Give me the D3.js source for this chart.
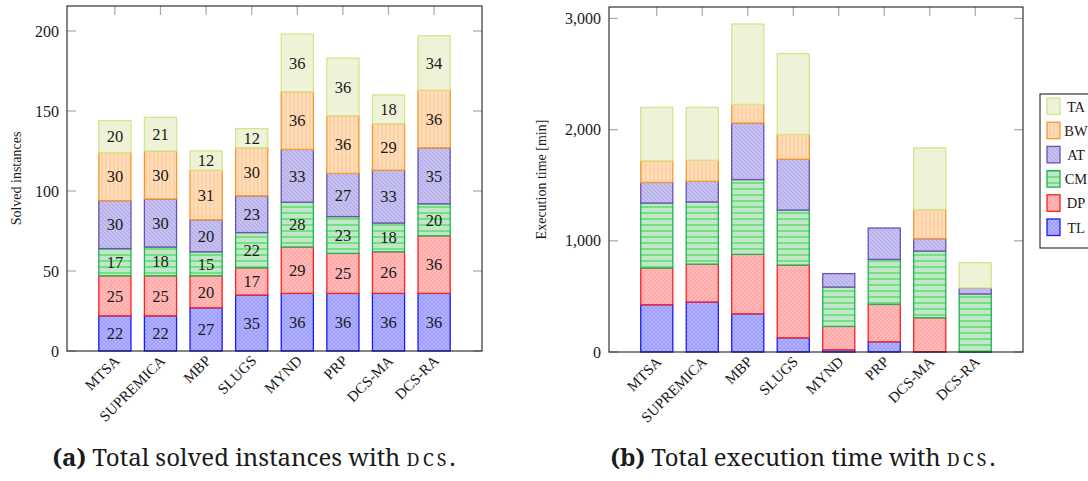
<!DOCTYPE html>
<html><head><meta charset="utf-8">
<script src="https://cdn.jsdelivr.net/npm/d3@7"></script>
<style>
body{margin:0;background:#fff;}
svg{display:block;}
</style></head>
<body>
<svg id="c" width="1088" height="481"></svg>
<script>
// ---------- data ----------
const categories = ["MTSA","SUPREMICA","MBP","SLUGS","MYND","PRP","DCS-MA","DCS-RA"];
const seriesNames = ["TL","DP","CM","AT","BW","TA"];
// (a) solved instances
const solvedTL = [22,22,27,35,36,36,36,36];
const solvedDP = [25,25,20,17,29,25,26,36];
const solvedCM = [17,18,15,22,28,23,18,20];
const solvedAT = [30,30,20,23,33,27,33,35];
const solvedBW = [30,30,31,30,36,36,29,36];
const solvedTA = [20,21,12,12,36,36,18,34];
// (b) execution time [min]
const timeTL = [425,450,344,128,20,92,3,2];
const timeDP = [330,340,534,654,210,336,305,0];
const timeCM = [585,560,673,495,354,405,600,520];
const timeAT = [185,185,508,457,121,282,112,54];
const timeBW = [195,190,168,223,0,0,261,0];
const timeTA = [480,475,723,726,0,0,555,228];
const solvedTicks = [0,50,100,150,200];
const timeTicks = [0,1000,2000,3000];

const FONT = "'Liberation Serif','Times New Roman',serif";
const styles = {
  TL:{stroke:"#1a1aff"}, DP:{stroke:"#ff2020"}, CM:{stroke:"#22b055"},
  AT:{stroke:"#6a52b4"}, BW:{stroke:"#f59a30"}, TA:{stroke:"#d6e48c"}
};

const svg = d3.select("#c");
const defs = svg.append("defs");
function pat(id, size, bg, draw){
  const p = defs.append("pattern").attr("id",id).attr("patternUnits","userSpaceOnUse")
    .attr("width",size).attr("height",size);
  p.append("rect").attr("width",size).attr("height",size).attr("fill",bg);
  draw(p);
}
pat("pTL",4,"#b4b4ff",p=>{
  p.append("path").attr("d","M0,0L4,4M4,0L0,4").attr("stroke","#9090ff").attr("stroke-width",0.7);
});
pat("pDP",4,"#ffb8b8",p=>{
  p.append("path").attr("d","M-1,1L1,-1M0,4L4,0M3,5L5,3").attr("stroke","#ff9494").attr("stroke-width",0.7);
});
pat("pCM",6,"#c2e6c9",p=>{
  p.append("path").attr("d","M0,3L6,3").attr("stroke","#22dd33").attr("stroke-width",1);
});
pat("pAT",4,"#c6c1ec",p=>{
  p.append("path").attr("d","M-1,3L1,5M0,0L4,4M3,-1L5,1").attr("stroke","#a49cf2").attr("stroke-width",0.7);
});
pat("pBW",4,"#ffdcba",p=>{
  p.append("path").attr("d","M2,0L2,4").attr("stroke","#ffc890").attr("stroke-width",1);
});
pat("pTA",4,"#eef3d8",p=>{});

function chart(o){
  const x = d3.scalePoint().domain(categories).range([o.x0,o.x1]).padding(1.05);
  const y = d3.scaleLinear().domain([0,o.ymax]).range([o.y1,o.y0]);
  const bw = x.step()*0.705;
  const g = svg.append("g");
  const tk = g.append("g").attr("stroke","#a8a8a8").attr("stroke-width",1.2);
  categories.forEach(c=>{
    tk.append("line").attr("x1",x(c)).attr("x2",x(c)).attr("y1",o.y0).attr("y2",o.y0+9);
  });
  o.ticks.forEach(t=>{
    tk.append("line").attr("x1",o.x0).attr("x2",o.x0+9).attr("y1",y(t)).attr("y2",y(t));
    tk.append("line").attr("x1",o.x1).attr("x2",o.x1-9).attr("y1",y(t)).attr("y2",y(t));
  });
  const rows = categories.map((c,i)=>{
    const r={cat:c}; seriesNames.forEach((s,k)=>r[s]=o.values[k][i]); return r;
  });
  const stacked = d3.stack().keys(seriesNames)(rows);
  stacked.forEach(layer=>{
    const s = layer.key;
    const lg = g.append("g");
    layer.forEach(d=>{
      const v = d[1]-d[0];
      if(v<=0) return;
      lg.append("rect").attr("x",x(d.data.cat)-bw/2).attr("width",bw)
        .attr("y",y(d[1])).attr("height",y(d[0])-y(d[1]))
        .attr("fill","url(#p"+s+")").attr("stroke",styles[s].stroke).attr("stroke-width",1.3);
      if(o.labels){
        lg.append("text").attr("x",x(d.data.cat)).attr("y",(y(d[0])+y(d[1]))/2)
          .attr("dy","0.35em").attr("text-anchor","middle").attr("font-size",16.5)
          .style("font-family",FONT).attr("fill","#1a1a1a").text(v);
      }
    });
  });
  g.append("rect").attr("x",o.x0).attr("y",o.y0).attr("width",o.x1-o.x0).attr("height",o.y1-o.y0)
    .attr("fill","none").attr("stroke","#222").attr("stroke-width",1.1);
  o.ticks.forEach(t=>{
    g.append("text").attr("x",o.x0-8).attr("y",y(t)).attr("dy","0.35em")
      .attr("text-anchor","end").attr("font-size",16).style("font-family",FONT).attr("fill","#1a1a1a")
      .text(o.fmt(t));
  });
  categories.forEach(c=>{
    g.append("text").attr("transform",`translate(${x(c)+2},${o.y1+7}) rotate(-45)`)
      .attr("text-anchor","end").attr("dy","0.35em").attr("font-size",15)
      .style("font-family",FONT).attr("fill","#1a1a1a").text(c);
  });
  g.append("text").attr("transform",`translate(${o.ylx},${(o.y0+o.y1)/2}) rotate(-90)`)
    .attr("text-anchor","middle").attr("dy","0.35em").attr("font-size",14)
    .style("font-family",FONT).attr("fill","#1a1a1a").text(o.ylabel);
}

chart({x0:67,x1:482,y0:6,y1:351,ymax:215.6,ticks:solvedTicks,fmt:d3.format("d"),labels:true,
  values:[solvedTL,solvedDP,solvedCM,solvedAT,solvedBW,solvedTA],ylabel:"Solved instances",ylx:16});
chart({x0:609,x1:1023,y0:7,y1:352,ymax:3103,ticks:timeTicks,fmt:d3.format(","),labels:false,
  values:[timeTL,timeDP,timeCM,timeAT,timeBW,timeTA],ylabel:"Execution time [min]",ylx:541});

// legend
const lg = svg.append("g");
lg.append("rect").attr("x",1040).attr("y",94).attr("width",60).attr("height",154)
  .attr("fill","#fff").attr("stroke","#222").attr("stroke-width",1.1);
seriesNames.slice().reverse().forEach((s,i)=>{
  const yy = 98+i*24.2;
  lg.append("rect").attr("x",1047).attr("y",yy).attr("width",13).attr("height",16.5)
    .attr("fill","url(#p"+s+")").attr("stroke",styles[s].stroke).attr("stroke-width",1.3);
  lg.append("text").attr("x",1076).attr("y",yy+8.5).attr("dy","0.35em").attr("text-anchor","middle")
    .attr("font-size",14.5).style("font-family",FONT).attr("fill","#1a1a1a").text(s);
});

// captions
function caption(cx, label, rest){
  const t = svg.append("text").attr("x",cx).attr("y",466).attr("text-anchor","middle")
    .attr("font-size",20).style("font-family","'Noto Serif',serif").attr("fill","#1a1a1a");
  t.append("tspan").attr("font-weight","bold").text(label+" ");
  t.append("tspan").text(rest+" ");
  t.append("tspan").attr("class","sc").attr("letter-spacing","3").text("DCS");
  t.append("tspan").text(".");
  return t;
}
const c1 = caption(254,"(a)","Total solved instances with");
const c2 = caption(803,"(b)","Total execution time with");
[[c1,405],[c2,387]].forEach(([t,w])=>{
  t.select(".sc").attr("font-size",15);
  const cw = t.node().getComputedTextLength();
  const fs = 20*w/cw;
  t.attr("font-size",fs);
  t.select(".sc").attr("font-size",fs*0.75);
});
</script>
</body></html>
